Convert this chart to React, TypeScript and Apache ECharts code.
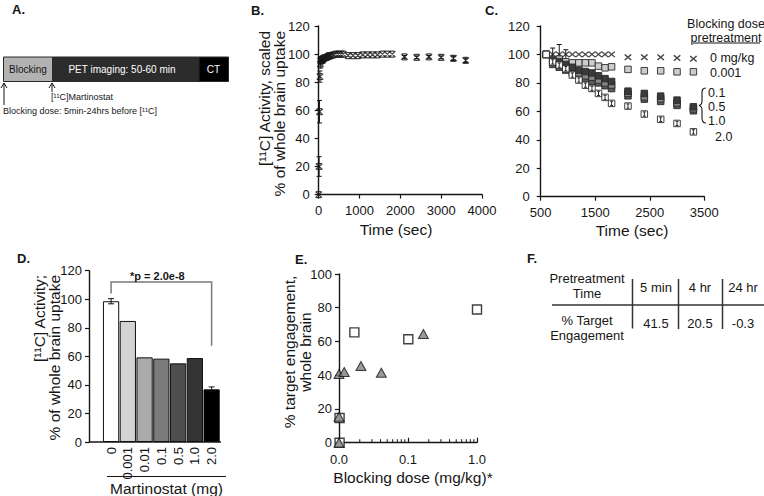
import React, { useEffect, useRef } from 'react';
import * as echarts from 'echarts';

const FONT = '"Liberation Sans", Arial, Helvetica, sans-serif';
const INK = '#161616';

// ---------- Panel B: whole-brain time-activity curve ----------
const bTime = [0, 10, 20, 30, 40, 50, 60, 75, 90, 105, 120, 150, 180, 210, 240, 270, 300, 360, 420, 480, 540, 600, 720, 840, 960, 1080, 1200, 1320, 1440, 1560, 1680, 1800, 2100, 2400, 2700, 3000, 3300, 3600];
const bActivity = [0, 20, 59, 84, 93, 95, 96, 96, 95.5, 96.5, 97, 97.5, 97.5, 98, 98.5, 99, 99, 99.5, 100, 100, 100, 100, 99, 99, 99, 99.5, 99.5, 99.5, 99.5, 100, 100, 100, 98, 97.7, 98, 97.7, 97, 95.5];
const bError = [0, 7, 8, 4, 3, 2, 0, 0, 0, 0, 0, 0, 0, 0, 0, 0, 0, 0, 0, 0, 0, 0, 0, 0, 0, 0, 0, 0, 0, 0, 0, 0, 1, 1, 1, 1, 1.5, 1.5];
const bXTicks = { min: 0, max: 4000, interval: 1000 };
const bYTicks = { min: 0, max: 120, interval: 20 };

// ---------- Panel C: blocking-dose time courses ----------
const cTime = [600, 720, 840, 960, 1080, 1200, 1320, 1440, 1560, 1680, 1800, 2100, 2400, 2700, 3000, 3300];
const cTimeOffset = 500;
const cDose0 = [100, 100, 100, 100, 100, 100, 100, 100, 100, 100, 100, 98, 98, 98, 97.5, 97];
const cDose0Err = [0, 4.5, 7, 3.3, 0, 0, 0, 0, 0, 0, 0, 0, 0, 0, 0, 0];
const cDose0001 = [100, 96.5, 96.7, 94.8, 94.1, 94.1, 94.1, 94.1, 91.8, 90.6, 91.3, 89.5, 88.5, 88.5, 87.8, 87.8];
const cDose01 = [100, 95, 93, 91, 89, 87, 85, 84, 82, 80, 78.5, 72.6, 70.2, 68.8, 66, 61.8];
const cDose05 = [100, 93, 91, 89, 87, 85, 83, 81, 80, 78, 76, 70.9, 68.6, 67, 64.2, 60.4];
const cDose10 = [100, 96, 95, 93, 91, 89, 88, 87, 85, 83, 81, 74.2, 72.6, 70.7, 67.9, 63.2];
const cDose20 = [100, 94.8, 92.5, 90, 85.5, 82, 78.4, 76.1, 72.6, 69.8, 65.6, 63.7, 58.1, 54.4, 51.5, 45.6];
const cDose20Err = [0, 1.5, 1.5, 1.5, 1.5, 1.5, 1.5, 1.5, 1.5, 1.5, 1.5, 1.5, 1.5, 1.5, 1.5, 1.5];
const cXTicks = { min: 0, max: 3000, interval: 1000 };
const cLegendTitle = ['Blocking dose', 'pretreatment'];
const cLegendLabels = ['0 mg/kg', '0.001', '0.1', '0.5', '1.0', '2.0'];

// ---------- Panel D: bar chart ----------
const dCategories = ['0', '0.001', '0.01', '0.1', '0.5', '1.0', '2.0'];
const dActivity = [98.6, 84.8, 59.3, 58.4, 55.1, 58.8, 36.9];
const dError = [1.8, 0, 0, 0, 0, 0, 1.7];
const dBarColors = ['#ffffff', '#d3d3d3', '#ababab', '#7b7b7b', '#4e4e4e', '#343434', '#000000'];
const dPValueLabel = '*p = 2.0e-8';
const dBracket = [0, 6, 112, 104, 67.5]; // from cat, to cat, level, left end, right end

// ---------- Panel E: target engagement ----------
const eSquareDose = [0.0102, 0.0102, 0.0167, 0.101, 1.0];
const eSquareTE = [0, 14.6, 65.4, 61.3, 79];
const eTriangleDose = [0.01, 0.01, 0.01, 0.0119, 0.0208, 0.041, 0.167];
const eTriangleTE = [0, 15.4, 40.7, 41.9, 45.5, 41.5, 64.4];
const eMinorTicks = [0.02, 0.03, 0.04, 0.05, 0.06, 0.07, 0.08, 0.09, 0.2, 0.3, 0.4, 0.5, 0.6, 0.7, 0.8, 0.9];

// ---------- Panel F: table ----------
const fHeaderLabel = ['Pretreatment', 'Time'];
const fRowLabel = ['% Target', 'Engagement'];
const fTimes = ['5 min', '4 hr', '24 hr'];
const fEngagement = ['41.5', '20.5', '-0.3'];

// ---------- Panel A ----------
const aSegments = ['Blocking', 'PET imaging: 50-60 min', 'CT'];
const aArrowLabels = ['[\u00B9\u00B9C]Martinostat', 'Blocking dose: 5min-24hrs before [\u00B9\u00B9C]'];

const xSymbolCaps = 'path://M0,0L10,10M10,0L0,10M1.5,0L8.5,0M1.5,10L8.5,10';
const xSymbol = 'path://M0,0L10,10M10,0L0,10';

function errorBarSeries(xi: number, yi: number, data: number[][], cap: number, color: string, width: number, z = 2) {
  return {
    type: 'custom',
    xAxisIndex: xi,
    yAxisIndex: yi,
    z,
    silent: true,
    clip: false,
    encode: { x: 0, y: [1, 2] },
    data,
    renderItem: (_p: any, api: any) => {
      const x = api.value(0);
      const a = api.coord([x, api.value(1)]);
      const b = api.coord([x, api.value(2)]);
      const st = { stroke: color, lineWidth: width };
      return {
        type: 'group',
        children: [
          { type: 'line', shape: { x1: a[0], y1: a[1], x2: b[0], y2: b[1] }, style: st },
          { type: 'line', shape: { x1: a[0] - cap, y1: a[1], x2: a[0] + cap, y2: a[1] }, style: st },
          { type: 'line', shape: { x1: b[0] - cap, y1: b[1], x2: b[0] + cap, y2: b[1] }, style: st },
        ],
      };
    },
  };
}

const axisLine = { show: true, onZero: false, lineStyle: { color: INK, width: 1.4 } };
const tickStyle = { lineStyle: { color: INK, width: 1.2 } };
const labelStyle = (margin: number) => ({ fontSize: 13, color: INK, fontFamily: FONT, margin });

function txt(x: number, y: number, text: string, size: number, opts: any = {}) {
  return {
    type: 'text',
    x,
    y,
    silent: true,
    rotation: opts.rotation || 0,
    style: {
      text,
      font: `${opts.bold ? 'bold ' : ''}${size}px ${FONT}`,
      fill: opts.fill || INK,
      align: opts.align || 'left',
      verticalAlign: opts.va || 'middle',
    },
  };
}
function ln(x1: number, y1: number, x2: number, y2: number, color = INK, w = 1.2) {
  return { type: 'line', silent: true, shape: { x1, y1, x2, y2 }, style: { stroke: color, lineWidth: w } };
}

echarts.graphic.registerShape(
  'brace',
  echarts.graphic.extendPath('M7,0 C3.5,0 3,2 3,5 L3,13 C3,16 2,17 0,17.5 C2,18 3,19 3,22 L3,30 C3,33 3.5,35 7,35', {})
);

export default function App() {
  const ref = useRef<HTMLDivElement>(null);
  useEffect(() => {
    if (!ref.current) return;
    const chart = echarts.init(ref.current, undefined, { renderer: 'svg' });
    const pair = (xs: number[], ys: number[], off = 0) => xs.map((x, i) => [x - off, ys[i]]);
    const errs = (xs: number[], ys: number[], es: number[], off = 0) =>
      xs.map((x, i) => [x - off, ys[i] - es[i], ys[i] + es[i]]).filter((_, i) => es[i] > 0);
    const cSquare = (data: number[][], fill: string, z: number) => ({
      type: 'scatter', xAxisIndex: 1, yAxisIndex: 1, data, symbol: 'rect', symbolSize: 6.5, z,
      clip: false, silent: true,
      itemStyle: { color: fill, borderColor: '#2a2a2a', borderWidth: 0.9, opacity: 1 },
    });

    const graphics: any[] = [
      // panel labels
      txt(12, 9.5, 'A.', 13, { bold: true }),
      txt(251, 10, 'B.', 13, { bold: true }),
      txt(485, 10, 'C.', 13, { bold: true }),
      txt(17, 258, 'D.', 13, { bold: true }),
      txt(295, 259.5, 'E.', 13, { bold: true }),
      txt(527, 258, 'F.', 13, { bold: true }),
      // panel A timeline
      { type: 'rect', silent: true, shape: { x: 3.5, y: 57, width: 49, height: 24.5 }, style: { fill: '#b2b2b2', stroke: '#2a2a2a', lineWidth: 1 } },
      { type: 'rect', silent: true, shape: { x: 52.5, y: 57, width: 146.5, height: 24.5 }, style: { fill: '#2c2c2c', stroke: '#2a2a2a', lineWidth: 1 } },
      { type: 'rect', silent: true, shape: { x: 199, y: 57, width: 29.5, height: 24.5 }, style: { fill: '#000000', stroke: '#2a2a2a', lineWidth: 1 } },
      txt(28, 69, aSegments[0], 10, { align: 'center' }),
      txt(122, 69, aSegments[1], 10, { align: 'center', fill: '#ffffff' }),
      txt(213.5, 69, aSegments[2], 10, { align: 'center', fill: '#ffffff' }),
      ln(4, 83, 4, 105, INK, 1),
      { type: 'polyline', silent: true, shape: { points: [[1, 88], [4, 83], [7, 88]] }, style: { stroke: INK, lineWidth: 1, fill: 'none' } },
      ln(52, 83, 52, 92, INK, 1),
      { type: 'polyline', silent: true, shape: { points: [[49, 88], [52, 83], [55, 88]] }, style: { stroke: INK, lineWidth: 1, fill: 'none' } },
      txt(51, 96.5, aArrowLabels[0], 9),
      txt(3, 110.5, aArrowLabels[1], 9),
      // panel B axis names
      txt(264, 31, '[\u00B9\u00B9C] Activity, scaled', 15.5, { rotation: Math.PI / 2, align: 'right' }),
      txt(279, 31, '% of whole brain uptake', 15.5, { rotation: Math.PI / 2, align: 'right' }),
      txt(396, 229.5, 'Time (sec)', 15.5, { align: 'center' }),
      // panel C axis name + legend
      txt(632, 230, 'Time (sec)', 15.5, { align: 'center' }),
      txt(726, 24, cLegendTitle[0], 12.5, { align: 'center' }),
      txt(726, 37.5, cLegendTitle[1], 12.5, { align: 'center' }),
      ln(693, 43, 760, 43, INK, 1),
      txt(710, 58, cLegendLabels[0], 12.5),
      txt(710, 73, cLegendLabels[1], 12.5),
      txt(708, 92.5, cLegendLabels[2], 12.5),
      txt(708, 106.5, cLegendLabels[3], 12.5),
      txt(708, 120.5, cLegendLabels[4], 12.5),
      txt(715, 137, cLegendLabels[5], 12.5),
      { type: 'brace', silent: true, x: 699, y: 88, style: { stroke: INK, fill: 'none', lineWidth: 1.1 } },
      // panel D
      txt(39, 275, '[\u00B9\u00B9C] Activity;', 15.5, { rotation: Math.PI / 2, align: 'right' }),
      txt(54, 275, '% of whole brain uptake', 15.5, { rotation: Math.PI / 2, align: 'right' }),
      ln(89, 442, 221, 442, INK, 1.4),
      ln(107, 476.5, 226, 476.5, INK, 1.2),
      txt(166.5, 488, 'Martinostat (mg)', 15.5, { align: 'center' }),
      // panel E
      txt(289.5, 352, '% target engagement,', 15.5, { rotation: Math.PI / 2, align: 'center' }),
      txt(305, 352, 'whole brain', 15.5, { rotation: Math.PI / 2, align: 'center' }),
      txt(413, 477.5, 'Blocking dose (mg/kg)*', 15.5, { align: 'center' }),
      // panel F table
      txt(587, 278.5, fHeaderLabel[0], 13, { align: 'center' }),
      txt(587, 293.5, fHeaderLabel[1], 13, { align: 'center' }),
      txt(587, 320, fRowLabel[0], 13, { align: 'center' }),
      txt(587, 335, fRowLabel[1], 13, { align: 'center' }),
      ln(552, 305, 764, 305, '#333', 1.5),
      ln(632.5, 279, 632.5, 328.5, '#333', 1.5),
      ln(678.5, 279, 678.5, 329, '#333', 1.5),
      ln(722.5, 279, 722.5, 329, '#333', 1.5),
    ];
    const colX = [656, 700, 743];
    fTimes.forEach((t, i) => graphics.push(txt(colX[i], 287, t, 13, { align: 'center' })));
    fEngagement.forEach((v, i) => graphics.push(txt(colX[i], 323.5, v, 13, { align: 'center' })));

    const plain = (v: number) => String(v);
    const option: any = {
      animation: false,
      textStyle: { fontFamily: FONT },
      grid: [
        { left: 318.7, top: 26, width: 163.3, height: 168.6 },
        { left: 540.7, top: 26, width: 163.6, height: 170.7 },
        { left: 102.7, top: 270.7, width: 117.3, height: 171.3 },
        { left: 339, top: 274, width: 138, height: 168.7 },
      ],
      xAxis: [
        {
          gridIndex: 0, type: 'value', ...bXTicks, splitLine: { show: false }, axisLine,
          axisTick: { show: true, length: 4, ...tickStyle }, axisLabel: { ...labelStyle(9), formatter: plain },
        },
        {
          gridIndex: 1, type: 'value', ...cXTicks, splitLine: { show: false }, axisLine,
          axisTick: { show: true, length: 4, ...tickStyle },
          axisLabel: { ...labelStyle(9), formatter: (v: number) => String(v + cTimeOffset) },
        },
        {
          gridIndex: 2, type: 'category', data: dCategories, axisLine: { show: false },
          axisTick: { show: false }, axisLabel: { ...labelStyle(5), rotate: 90, interval: 0 },
        },
        {
          gridIndex: 3, type: 'log', logBase: 10, min: 0.01, max: 1, splitLine: { show: false }, axisLine,
          axisTick: { show: true, inside: true, length: 5, ...tickStyle },
          axisLabel: { ...labelStyle(10), formatter: (v: number) => Number(v).toFixed(1) },
        },
      ],
      yAxis: [
        {
          gridIndex: 0, type: 'value', ...bYTicks, splitLine: { show: false }, axisLine,
          axisTick: { show: true, length: 4, ...tickStyle }, axisLabel: { ...labelStyle(9), formatter: plain },
        },
        {
          gridIndex: 1, type: 'value', ...bYTicks, splitLine: { show: false }, axisLine,
          axisTick: { show: true, length: 4, ...tickStyle }, axisLabel: labelStyle(11),
        },
        {
          gridIndex: 2, type: 'value', ...bYTicks, offset: 13.7, splitLine: { show: false }, axisLine,
          axisTick: { show: true, length: 4, ...tickStyle }, axisLabel: labelStyle(7),
        },
        {
          gridIndex: 3, type: 'value', min: 0, max: 100, interval: 20, splitLine: { show: false }, axisLine,
          axisTick: { show: true, length: 4, ...tickStyle }, axisLabel: labelStyle(7),
        },
      ],
      series: [
        // ---- B ----
        errorBarSeries(0, 0, errs(bTime, bActivity, bError), 2.5, INK, 1),
        {
          type: 'scatter', xAxisIndex: 0, yAxisIndex: 0, data: pair(bTime, bActivity), clip: false, silent: true,
          symbol: xSymbolCaps, symbolSize: [6.5, 6], z: 3,
          itemStyle: { color: 'rgba(0,0,0,0)', borderColor: INK, borderWidth: 1.3 },
        },
        // ---- C ----
        errorBarSeries(1, 1, errs(cTime, cDose0, cDose0Err, cTimeOffset), 2.5, INK, 1),
        {
          type: 'scatter', xAxisIndex: 1, yAxisIndex: 1, data: pair(cTime, cDose0, cTimeOffset), clip: false, silent: true,
          symbol: xSymbol, symbolSize: [6.5, 5.5], z: 3,
          itemStyle: { color: 'rgba(0,0,0,0)', borderColor: INK, borderWidth: 1.3 },
        },
        cSquare(pair(cTime, cDose0001, cTimeOffset), '#cdcdcd', 4),
        cSquare(pair(cTime, cDose05, cTimeOffset), '#595959', 5),
        cSquare(pair(cTime, cDose01, cTimeOffset), '#858585', 6),
        cSquare(pair(cTime, cDose10, cTimeOffset), '#3a3a3a', 7),
        cSquare(pair(cTime, cDose20, cTimeOffset), '#ffffff', 8),
        errorBarSeries(1, 1, errs(cTime, cDose20, cDose20Err, cTimeOffset), 1.5, INK, 0.9, 9),
        // ---- D ----
        {
          type: 'bar', xAxisIndex: 2, yAxisIndex: 2, barCategoryGap: '3%', silent: true,
          data: dActivity.map((v, i) => ({ value: v, itemStyle: { color: dBarColors[i] } })),
          itemStyle: { borderColor: '#111', borderWidth: 1 },
        },
        errorBarSeries(2, 2, dActivity.map((v, i) => [i, v - dError[i], v + dError[i]]).filter((_, i) => dError[i] > 0), 3, '#111', 1, 4),
        {
          type: 'custom', xAxisIndex: 2, yAxisIndex: 2, silent: true, clip: false, z: 5,
          encode: { x: [0, 1], y: [2, 3, 4] },
          data: [dBracket],
          renderItem: (_p: any, api: any) => {
            const a = api.coord([api.value(0), api.value(3)]);
            const b = api.coord([api.value(0), api.value(2)]);
            const c = api.coord([api.value(1), api.value(2)]);
            const d = api.coord([api.value(1), api.value(4)]);
            return {
              type: 'group',
              children: [
                { type: 'polyline', shape: { points: [a, b, c, d] }, style: { stroke: '#7a7a7a', lineWidth: 1.5, fill: 'none' } },
                {
                  type: 'text', x: (b[0] + c[0]) / 2 - 4, y: b[1] - 6.5,
                  style: { text: dPValueLabel, font: `bold 11px ${FONT}`, fill: INK, align: 'center', verticalAlign: 'middle' },
                },
              ],
            };
          },
        },
        // ---- E ----
        {
          type: 'custom', xAxisIndex: 3, yAxisIndex: 3, silent: true, clip: false, z: 2,
          encode: { x: 0 },
          data: eMinorTicks.map((v) => [v, 0]),
          renderItem: (_p: any, api: any) => {
            const p = api.coord([api.value(0), 0]);
            return { type: 'line', shape: { x1: p[0], y1: p[1], x2: p[0], y2: p[1] - 3.5 }, style: { stroke: INK, lineWidth: 1 } };
          },
        },
        {
          type: 'scatter', xAxisIndex: 3, yAxisIndex: 3, data: pair(eSquareDose, eSquareTE), clip: false, silent: true,
          symbol: 'rect', symbolSize: 9, z: 3,
          itemStyle: { color: '#ffffff', borderColor: '#111', borderWidth: 1.4 },
        },
        {
          type: 'scatter', xAxisIndex: 3, yAxisIndex: 3, data: pair(eTriangleDose, eTriangleTE), clip: false, silent: true,
          symbol: 'triangle', symbolSize: [10, 9], z: 4,
          itemStyle: { color: '#808080', borderColor: '#111', borderWidth: 1 },
        },
      ],
      graphic: graphics,
    };
    chart.setOption(option);
    return () => chart.dispose();
  }, []);
  return <div ref={ref} style={{ position: 'absolute', left: 0, top: 0, width: 764, height: 496, background: '#fff' }} />;
}
